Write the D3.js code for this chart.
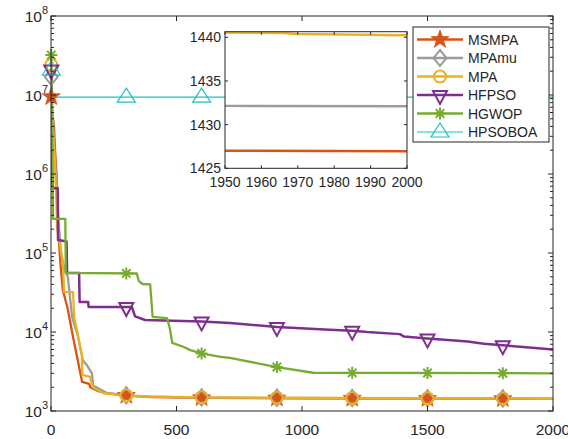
<!DOCTYPE html>
<html><head><meta charset="utf-8">
<script src="https://cdn.jsdelivr.net/npm/d3@7"></script>
<style>
body{margin:0;background:#fff}
text{font-family:"Liberation Sans",Arial,Helvetica,sans-serif;fill:#262626}
</style>
</head><body>
<svg id="c" width="568" height="439"></svg>
<script>
// ---------- data ----------
const seriesNames = ["MSMPA","MPAmu","MPA","HFPSO","HGWOP","HPSOBOA"];
const seriesColors = ["#D95319","#9B9B9B","#EDB120","#7E2F8E","#77AC30","#1EBFC9"];
const seriesMarkers = ["star","diamond","circle","triangleDown","asterisk","triangleUp"];

const msmpa = [[1,9.5e6],[5,6e6],[12,4e6],[16,2e6],[22,1e6],[26,4e5],[33,1.2e5],[40,6e4],[47,3.4e4],[65,2.07e4],[88,8.6e3],[124,2.33e3],[152,2.2e3],[156,2.0e3],[185,1.8e3],[220,1.68e3],[300,1.57e3],[400,1.5e3],[600,1.47e3],[1000,1.45e3],[1500,1.44e3],[1950,1427.02],[2000,1426.95]];
const mpamu = [[1,1.7e7],[4,8e6],[10,3e6],[20,1e6],[30,2.5e5],[40,1e5],[55,6e4],[67,5e4],[84,1.55e4],[108,8.6e3],[127,4.4e3],[143,3.8e3],[160,3.1e3],[163,3.0e3],[168,2.1e3],[222,1.69e3],[300,1.58e3],[400,1.52e3],[600,1.48e3],[1000,1.46e3],[1500,1.445e3],[1950,1432.15],[2000,1432.1]];
const mpa = [[1,2.4e7],[5,5e6],[15,1.5e6],[22,4e5],[24,2.1e5],[30,1.6e5],[36,1.3e5],[48,7e4],[52,3.2e4],[88,3.2e4],[92,1.55e4],[103,1.06e4],[123,5.1e3],[125,2.86e3],[155,2.7e3],[167,2.0e3],[207,1.69e3],[275,1.6e3],[300,1.57e3],[355,1.53e3],[600,1.49e3],[1000,1.47e3],[1500,1.45e3],[1950,1440.55],[1966,1440.5],[1970,1440.38],[2000,1440.22]];
const hfpso = [[1,2.1e7],[3,1.5e6],[4,1.06e6],[6,6.6e5],[27,6.6e5],[28,1.46e5],[62,1.4e5],[64,5.6e4],[112,5.6e4],[114,2.4e4],[148,2.4e4],[150,2.07e4],[322,2.07e4],[335,1.58e4],[375,1.42e4],[600,1.36e4],[713,1.3e4],[900,1.16e4],[1110,1.07e4],[1200,1.04e4],[1260,1.0e4],[1390,9.4e3],[1405,8.8e3],[1500,8.3e3],[1660,7.6e3],[1725,7.1e3],[1800,6.8e3],[2000,6.0e3]];
const hgwop = [[1,3.2e7],[4,5e6],[7,1e6],[8,2.7e5],[57,2.7e5],[59,5.6e4],[342,5.5e4],[350,4.4e4],[365,4.05e4],[395,4.0e4],[405,1.55e4],[462,1.5e4],[473,1.13e4],[483,7.3e3],[527,6.5e3],[555,5.9e3],[600,5.35e3],[675,4.85e3],[713,4.7e3],[900,3.6e3],[1045,3.05e3],[2000,3.0e3]];
const hpsoboa = [[1,2.07e7],[3,9.4e6],[2000,9.4e6]];
const seriesData = [msmpa,mpamu,mpa,hfpso,hgwop,hpsoboa];

const markerIters = [1,300,600,900,1200,1500,1800];
const xTicks = [0,500,1000,1500,2000];
const yTickExps = [3,4,5,6,7,8];
const insetXTicks = [1950,1960,1970,1980,1990,2000];
const insetYTicks = [1425,1430,1435,1440];

// ---------- setup ----------
const svg = d3.select("#c");
const L=51, R=553, T=16, B=411;
const x = d3.scaleLinear().domain([0,2000]).range([L,R]);
const y = d3.scaleLog().domain([1e3,1e8]).range([B,T]);
const axisCol="#262626";
const lw = [2.3,2.3,2.3,2.5,2.3,1.2];

svg.append("clipPath").attr("id","mainclip").append("rect").attr("x",L).attr("y",T).attr("width",R-L).attr("height",B-T);

function valAt(data, it){
  for(let i=0;i<data.length-1;i++){
    const a=data[i], b=data[i+1];
    if(it>=a[0] && it<=b[0]){
      const t=(it-a[0])/(b[0]-a[0]);
      return Math.pow(10, Math.log10(a[1])+t*(Math.log10(b[1])-Math.log10(a[1])));
    }
  }
  return data[data.length-1][1];
}

function starPath(ro, ri){
  let p="";
  for(let i=0;i<10;i++){
    const r = i%2===0?ro:ri;
    const a = -Math.PI/2 + i*Math.PI/5;
    p += (i===0?"M":"L")+(r*Math.cos(a)).toFixed(2)+","+(r*Math.sin(a)).toFixed(2);
  }
  return p+"Z";
}
function drawMarker(g, type, cx, cy, color){
  const m = g.append("g").attr("transform",`translate(${cx},${cy})`);
  if(type==="star"){
    m.append("path").attr("d",starPath(9.5,3.8)).attr("fill",color).attr("stroke",color).attr("stroke-width",0.8);
  } else if(type==="diamond"){
    m.append("path").attr("d","M0,-8L6.5,0L0,8L-6.5,0Z").attr("fill","none").attr("stroke",color).attr("stroke-width",2);
  } else if(type==="circle"){
    m.append("circle").attr("r",6).attr("fill","none").attr("stroke",color).attr("stroke-width",2);
  } else if(type==="triangleDown"){
    m.append("path").attr("d","M-7,-4L7,-4L0,9Z").attr("fill","none").attr("stroke",color).attr("stroke-width",2);
  } else if(type==="triangleUp"){
    m.append("path").attr("d","M0,-9L9,5L-9,5Z").attr("fill","none").attr("stroke",color).attr("stroke-width",1.2);
  } else if(type==="asterisk"){
    const r=6, d=r*0.707;
    m.append("path").attr("d",`M0,${-r}L0,${r}M${-r},0L${r},0M${-d},${-d}L${d},${d}M${-d},${d}L${d},${-d}`)
      .attr("stroke",color).attr("stroke-width",2).attr("fill","none");
  }
}

// ---------- main series ----------
const line = d3.line().x(d=>x(d[0])).y(d=>y(d[1]));
const plot = svg.append("g").attr("clip-path","url(#mainclip)");
seriesData.forEach((data,i)=>{
  plot.append("path").datum(data).attr("d",line).attr("fill","none")
    .attr("stroke",seriesColors[i]).attr("stroke-width",lw[i]).attr("stroke-linejoin","round");
});
const mk = svg.append("g");
seriesData.forEach((data,i)=>{
  markerIters.forEach(it=>{
    drawMarker(mk, seriesMarkers[i], x(it), y(valAt(data,it)), seriesColors[i]);
  });
});

// ---------- main axes ----------
const ax = svg.append("g");
ax.append("rect").attr("x",L).attr("y",T).attr("width",R-L).attr("height",B-T)
  .attr("fill","none").attr("stroke",axisCol).attr("stroke-width",1);
xTicks.forEach(v=>{
  const px=x(v);
  ax.append("line").attr("x1",px).attr("x2",px).attr("y1",B).attr("y2",B-5).attr("stroke",axisCol);
  ax.append("line").attr("x1",px).attr("x2",px).attr("y1",T).attr("y2",T+5).attr("stroke",axisCol);
  ax.append("text").attr("x",px).attr("y",B+24).attr("text-anchor","middle").attr("font-size",15.5).text(v);
});
yTickExps.forEach(e=>{
  const py=y(Math.pow(10,e));
  ax.append("line").attr("x1",L).attr("x2",L+5).attr("y1",py).attr("y2",py).attr("stroke",axisCol);
  ax.append("line").attr("x1",R).attr("x2",R-5).attr("y1",py).attr("y2",py).attr("stroke",axisCol);
  const t = ax.append("text").attr("x",L-3).attr("y",py+6).attr("text-anchor","end").attr("font-size",15.5);
  t.append("tspan").text("10");
  t.append("tspan").attr("dy",-8).attr("font-size",11).text(e);
  if(e<8){
    for(let k=2;k<=9;k++){
      const pm=y(k*Math.pow(10,e));
      ax.append("line").attr("x1",L).attr("x2",L+3).attr("y1",pm).attr("y2",pm).attr("stroke",axisCol);
      ax.append("line").attr("x1",R).attr("x2",R-3).attr("y1",pm).attr("y2",pm).attr("stroke",axisCol);
    }
  }
});

// ---------- inset ----------
const iL=225, iR=407, iT=31.7, iB=168.3;
const ix = d3.scaleLinear().domain([1950,2000]).range([iL,iR]);
const iy = d3.scaleLinear().domain([1425,1440.64]).range([iB,iT]);
const inset = svg.append("g");
inset.append("rect").attr("x",iL).attr("y",iT).attr("width",iR-iL).attr("height",iB-iT).attr("fill","#fff");
svg.append("clipPath").attr("id","iclip").append("rect").attr("x",iL).attr("y",iT).attr("width",iR-iL).attr("height",iB-iT);
const iline = d3.line().x(d=>ix(d[0])).y(d=>iy(d[1]));
const ip = inset.append("g").attr("clip-path","url(#iclip)");
seriesData.forEach((data,i)=>{
  const sub = data.filter(d=>d[0]>=1500);
  ip.append("path").datum(sub).attr("d",iline).attr("fill","none")
    .attr("stroke",seriesColors[i]).attr("stroke-width",2.5);
});
inset.append("rect").attr("x",iL).attr("y",iT).attr("width",iR-iL).attr("height",iB-iT)
  .attr("fill","none").attr("stroke",axisCol).attr("stroke-width",1);
insetXTicks.forEach(v=>{
  const px=ix(v);
  inset.append("line").attr("x1",px).attr("x2",px).attr("y1",iB).attr("y2",iB-3).attr("stroke",axisCol);
  inset.append("line").attr("x1",px).attr("x2",px).attr("y1",iT).attr("y2",iT+3).attr("stroke",axisCol);
  inset.append("text").attr("x",px).attr("y",iB+19).attr("text-anchor","middle").attr("font-size",14).text(v);
});
insetYTicks.forEach(v=>{
  const py=iy(v);
  inset.append("line").attr("x1",iL).attr("x2",iL+3).attr("y1",py).attr("y2",py).attr("stroke",axisCol);
  inset.append("line").attr("x1",iR).attr("x2",iR-3).attr("y1",py).attr("y2",py).attr("stroke",axisCol);
  inset.append("text").attr("x",iL-4).attr("y",py+5).attr("text-anchor","end").attr("font-size",14).text(v);
});

// ---------- legend ----------
const lg = svg.append("g");
const lgL=413, lgR=549, lgT=27, lgB=142;
lg.append("rect").attr("x",lgL).attr("y",lgT).attr("width",lgR-lgL).attr("height",lgB-lgT)
  .attr("fill","#fff").attr("stroke",axisCol).attr("stroke-width",1);
seriesNames.forEach((n,i)=>{
  const ly = 39.5 + i*18.5;
  lg.append("line").attr("x1",417).attr("x2",463).attr("y1",ly).attr("y2",ly)
    .attr("stroke",seriesColors[i]).attr("stroke-width",lw[i]);
  drawMarker(lg, seriesMarkers[i], 440, ly, seriesColors[i]);
  lg.append("text").attr("x",468).attr("y",ly+5).attr("font-size",14).text(n);
});
</script>
</body></html>
